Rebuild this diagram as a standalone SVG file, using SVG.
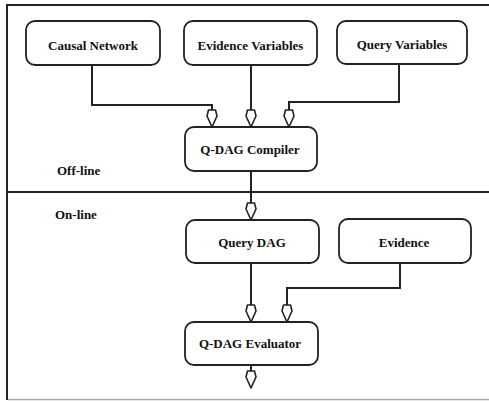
<svg xmlns="http://www.w3.org/2000/svg" width="489" height="402" viewBox="0 0 489 402">
<style>
.node rect{fill:#fff;stroke:#222;stroke-width:1.8}
.t{font-family:'Liberation Serif','Times New Roman',Times,serif;font-weight:bold;font-size:13px;fill:#111}
.node text{text-anchor:middle}
.conn path.l{fill:none;stroke:#222;stroke-width:2}
.frame{fill:none;stroke:#222;stroke-width:2}
</style>
<defs>
<path id="ah" d="M0,0 L-5,-11 L-3.5,-17 L3.5,-17 L5,-11 Z" fill="#fff" stroke="#222" stroke-width="1.6" stroke-linejoin="round"/>
</defs>
<rect width="489" height="402" fill="#fff"/>
<g id="frame">
<path class="frame" d="M489,5 H7 V400"/>
<path class="frame" d="M7,192 H489"/>
<path d="M8,399.5 H489" stroke="#aaa" stroke-width="1.5" fill="none"/>
</g>
<text class="t" font-family="Liberation Serif, serif" font-size="12.5" x="57" y="175">Off-line</text>
<text class="t" font-family="Liberation Serif, serif" font-size="12.5" x="55" y="219">On-line</text>
<g id="connectors" class="conn">
<path class="l" d="M92,65 V105 H212 V111"/>
<use href="#ah" x="212" y="127"/>
<path class="l" d="M251,65 V111"/>
<use href="#ah" x="251" y="127"/>
<path class="l" d="M399,64 V102 H289 V111"/>
<use href="#ah" x="289" y="127"/>
<path class="l" d="M251,171 V204"/>
<use href="#ah" x="251" y="220"/>
<path class="l" d="M251,263 V306"/>
<use href="#ah" x="251" y="322"/>
<path class="l" d="M400,263 V288 H287 V306"/>
<use href="#ah" x="287" y="322"/>
<path class="l" d="M251,365 V371"/>
<use href="#ah" x="251" y="388"/>
</g>
<g id="causal-network" class="node"><rect x="26" y="21" width="134" height="44" rx="9"/><text class="t" font-family="Liberation Serif, serif" x="93" y="49.5">Causal Network</text></g>
<g id="evidence-variables" class="node"><rect x="184" y="21" width="133" height="44" rx="9"/><text class="t" font-family="Liberation Serif, serif" x="250.5" y="49.5">Evidence Variables</text></g>
<g id="query-variables" class="node"><rect x="337" y="21" width="130" height="43" rx="9"/><text class="t" font-family="Liberation Serif, serif" x="402" y="49">Query Variables</text></g>
<g id="qdag-compiler" class="node"><rect x="185" y="127" width="132" height="44" rx="9"/><text class="t" font-family="Liberation Serif, serif" x="250" y="154">Q-DAG Compiler</text></g>
<g id="query-dag" class="node"><rect x="186" y="220" width="133" height="43" rx="9"/><text class="t" font-family="Liberation Serif, serif" x="252" y="247">Query DAG</text></g>
<g id="evidence" class="node"><rect x="339" y="219" width="132" height="44" rx="9"/><text class="t" font-family="Liberation Serif, serif" x="404" y="247">Evidence</text></g>
<g id="qdag-evaluator" class="node"><rect x="185" y="322" width="133" height="43" rx="9"/><text class="t" font-family="Liberation Serif, serif" x="250" y="348">Q-DAG Evaluator</text></g>
</svg>
